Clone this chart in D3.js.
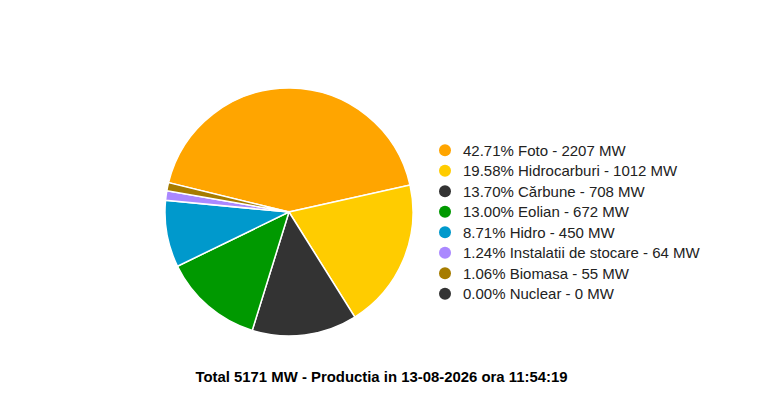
<!DOCTYPE html>
<html><head><meta charset="utf-8">
<script src="https://cdn.jsdelivr.net/npm/d3@7"></script>
<style>body{margin:0;background:#fff;}svg{display:block;}</style>
</head><body>
<script>
const categories = ["Foto","Hidrocarburi","Cărbune","Eolian","Hidro","Instalatii de stocare","Biomasa","Nuclear"];
const values = [2207,1012,708,672,450,64,55,0];
const colors = ["#FFA500","#FFCC00","#333333","#009900","#0099CC","#AA88FF","#A67C00","#333333"];
const titleText = "Total 5171 MW - Productia in 13-08-2026 ora 11:54:19";

const W=780,H=411;
const svg=d3.select("body").append("svg").attr("width",W).attr("height",H);
const total=d3.sum(values);
const data=categories.map((c,i)=>({name:c,value:values[i],color:colors[i]}));
const startAngle=-76.3*Math.PI/180;
const pie=d3.pie().value(d=>d.value).sort(null).startAngle(startAngle).endAngle(startAngle+2*Math.PI);
const arc=d3.arc().innerRadius(0).outerRadius(124);
const g=svg.append("g").attr("transform","translate(289,212)");
g.selectAll("path").data(pie(data).filter(d=>d.data.value>0)).join("path")
 .attr("d",arc).attr("fill",d=>d.data.color).attr("stroke","#fff").attr("stroke-width",1.5);

const y=d3.scaleBand().domain(categories).range([140,304]);
const lg=svg.append("g");
const rows=lg.selectAll("g").data(data).join("g").attr("transform",d=>`translate(0,${y(d.name)+y.bandwidth()/2})`);
rows.append("circle").attr("cx",445).attr("cy",0).attr("r",6).attr("fill",d=>d.color);
rows.append("text").attr("x",463).attr("y",5.5).attr("font-family","Arial, Liberation Sans, sans-serif").attr("font-size",15).attr("fill","#222")
 .text(d=>`${(d.value/total*100).toFixed(2)}% ${d.name} - ${d.value} MW`);

svg.append("text").attr("x",381.5).attr("y",382).attr("text-anchor","middle").attr("font-family","Arial, Liberation Sans, sans-serif")
 .attr("font-weight","bold").attr("font-size",14.9).attr("fill","#000").text(titleText);
</script>
</body></html>
